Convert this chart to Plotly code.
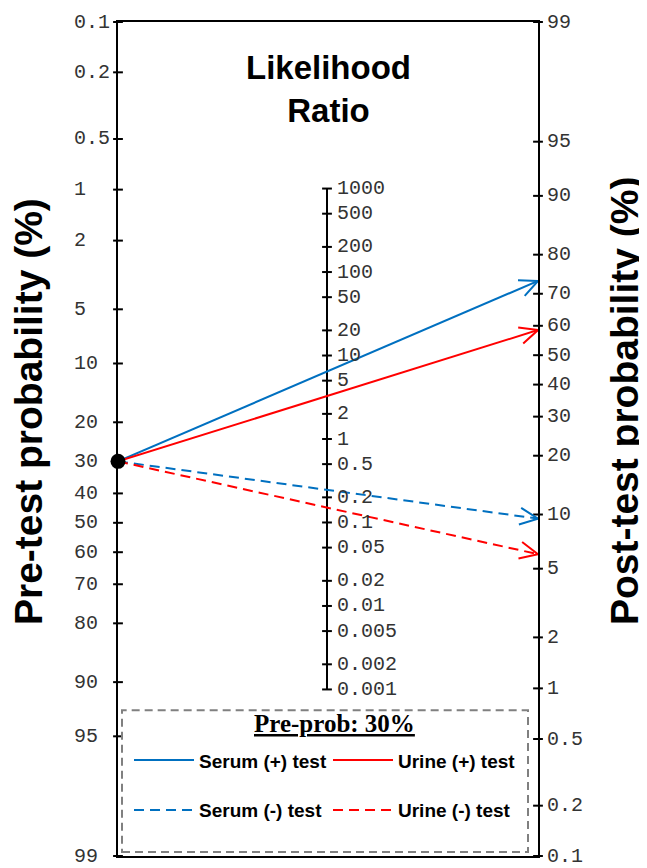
import math
import plotly.graph_objects as go

# ---------------- data ----------------
pre_prob = 30  # %
tests = ["Serum (+) test", "Urine (+) test", "Serum (-) test", "Urine (-) test"]
lr_values = [6.5, 3.3, 0.245, 0.15]
test_colors = ["#0070C0", "#FF0000", "#0070C0", "#FF0000"]
test_dash = ["solid", "solid", "10px,6px", "10px,6px"]
test_legend = ["legend", "legend", "legend2", "legend2"]

pre_ticks = [0.1, 0.2, 0.5, 1, 2, 5, 10, 20, 30, 40, 50, 60, 70, 80, 90, 95, 99]
post_ticks = [99, 95, 90, 80, 70, 60, 50, 40, 30, 20, 10, 5, 2, 1, 0.5, 0.2, 0.1]
lr_ticks = [1000, 500, 200, 100, 50, 20, 10, 5, 2, 1, 0.5, 0.2, 0.1, 0.05,
            0.02, 0.01, 0.005, 0.002, 0.001]


def fmt(v):
    return ("%g" % v)


# ---------------- nomogram scales ----------------
def logit(p):
    return math.log(p / (1 - p))

L_MIN = logit(0.001)
L_MAX = logit(0.99)
SPAN = L_MAX - L_MIN


def y_left(p):
    return logit(p / 100.0) - L_MIN


def y_right(p):
    return L_MAX - logit(p / 100.0)


def y_mid(lr):
    return (SPAN - math.log(lr)) / 2.0


# page has 8px body margin -> figure is offset by 8px
OFF = 8
W, H = 647 - OFF, 868 - OFF
PLOT_L, PLOT_T, PW, PH = 118, 20, 420, 836  # in page pixels
ML, MT = PLOT_L - OFF, PLOT_T - OFF
MR = W - ML - PW
MB = H - MT - PH
SY = PH / SPAN  # px per logit unit
SX = PW         # px per x unit


def py(pix):  # page pixel y -> paper
    return (PLOT_T + PH - pix) / PH


def px(pix):
    return (pix - PLOT_L) / PW


fig = go.Figure()

# axis ticks
tick_marker = dict(symbol="line-ew", size=7, line=dict(width=2, color="black"), color="black")
fig.add_trace(go.Scatter(x=[0] * len(pre_ticks), y=[y_left(v) for v in pre_ticks], mode="markers",
                         marker=tick_marker, cliponaxis=False, showlegend=False, hoverinfo="skip"))
fig.add_trace(go.Scatter(x=[1] * len(post_ticks), y=[y_right(v) for v in post_ticks], mode="markers",
                         marker=tick_marker, cliponaxis=False, showlegend=False, hoverinfo="skip"))
# LR axis
lr_x = 0.5 - 1.0 / SX
fig.add_trace(go.Scatter(x=[lr_x, lr_x], y=[y_mid(max(lr_ticks)), y_mid(min(lr_ticks))], mode="lines",
                         line=dict(color="black", width=2), cliponaxis=False, showlegend=False, hoverinfo="skip"))
fig.add_trace(go.Scatter(x=[lr_x] * len(lr_ticks), y=[y_mid(v) for v in lr_ticks], mode="markers",
                         marker=tick_marker, cliponaxis=False, showlegend=False, hoverinfo="skip"))

# test lines
y0 = y_left(pre_prob)
pre_odds = (pre_prob / 100.0) / (1 - pre_prob / 100.0)
for name, lr, col, dash, lg in zip(tests, lr_values, test_colors, test_dash, test_legend):
    post_odds = pre_odds * lr
    post_p = 100.0 * post_odds / (1 + post_odds)
    y1 = y_right(post_p)
    fig.add_trace(go.Scatter(x=[0, 1], y=[y0, y1], mode="lines", name=name,
                             line=dict(color=col, width=2, dash=dash), legend=lg,
                             cliponaxis=False, hoverinfo="skip"))
    # open arrowhead
    dxp, dyp = SX * 1.0, (y1 - y0) * SY
    n = math.hypot(dxp, dyp)
    ux, uy = dxp / n, dyp / n
    L, th = 20.0, math.radians(25)
    ax, ay = [], []
    for s in (1, -1):
        c, si = math.cos(s * th), math.sin(s * th)
        rx, ry = ux * c - uy * si, ux * si + uy * c
        ax.append(1 - L * rx / SX)
        ay.append(y1 - L * ry / SY)
    fig.add_trace(go.Scatter(x=[ax[0], 1, ax[1]], y=[ay[0], y1, ay[1]], mode="lines",
                             line=dict(color=col, width=2), cliponaxis=False,
                             showlegend=False, hoverinfo="skip"))

# pre-test point
fig.add_trace(go.Scatter(x=[0], y=[y0], mode="markers", marker=dict(color="black", size=15),
                         cliponaxis=False, showlegend=False, hoverinfo="skip"))

# tick labels (annotations, left-aligned)
lab_font = dict(family="Liberation Mono", size=20, color="#333333")
annots = []
for v in pre_ticks:
    annots.append(dict(text=fmt(v), xref="paper", yref="y", x=px(72), y=y_left(v), xanchor="left",
                       yanchor="middle", showarrow=False, font=lab_font))
for v in post_ticks:
    annots.append(dict(text=fmt(v), xref="paper", yref="y", x=px(545), y=y_right(v), xanchor="left",
                       yanchor="middle", showarrow=False, font=lab_font))
for v in lr_ticks:
    annots.append(dict(text=fmt(v), xref="paper", yref="y", x=px(335), y=y_mid(v), xanchor="left",
                       yanchor="middle", showarrow=False, font=lab_font))

annots += [
    dict(text="<b>Likelihood<br>Ratio</b>", xref="paper", yref="paper", x=px(328), y=py(87),
         xanchor="center", yanchor="middle", showarrow=False,
         font=dict(family="Liberation Sans", size=33, color="black")),
    dict(text="<b><u>Pre-prob: 30%</u></b>", xref="paper", yref="paper", x=px(334), y=py(723),
         xanchor="center", yanchor="middle", showarrow=False,
         font=dict(family="Liberation Serif", size=25, color="black")),
    dict(text="<b>Pre-test probability (%)</b>", xref="paper", yref="paper", x=px(28), y=py(411),
         xanchor="center", yanchor="middle", showarrow=False, textangle=-90,
         font=dict(family="Liberation Sans", size=39, color="black")),
    dict(text="<b>Post-test probability (%)</b>", xref="paper", yref="paper", x=px(624), y=py(400),
         xanchor="center", yanchor="middle", showarrow=False, textangle=-90,
         font=dict(family="Liberation Sans", size=39, color="black")),
]

leg_common = dict(orientation="h", xanchor="left", yanchor="middle", bgcolor="rgba(0,0,0,0)",
                  font=dict(family="Liberation Sans", size=19, color="black", weight="bold"),
                  itemwidth=60, entrywidthmode="pixels", entrywidth=124, borderwidth=0)

fig.update_layout(
    width=W, height=H,
    margin=dict(l=ML, r=MR, t=MT, b=MB),
    paper_bgcolor="white", plot_bgcolor="white",
    xaxis=dict(range=[0, 1], showline=True, mirror=True, linecolor="black", linewidth=2,
               showticklabels=False, showgrid=False, zeroline=False, ticks="", fixedrange=True),
    yaxis=dict(range=[SPAN, 0], showline=True, mirror=True, linecolor="black", linewidth=2,
               showticklabels=False, showgrid=False, zeroline=False, ticks="", fixedrange=True),
    legend=dict(x=px(129), y=py(760), **leg_common),
    legend2=dict(x=px(129), y=py(810), **leg_common),
    shapes=[dict(type="rect", xref="paper", yref="paper", x0=px(122), x1=px(528), y0=py(852), y1=py(710),
                 line=dict(color="#808080", width=2, dash="8px,5px"), fillcolor="rgba(0,0,0,0)")],
    annotations=annots,
)

fig.write_html("out.html")
